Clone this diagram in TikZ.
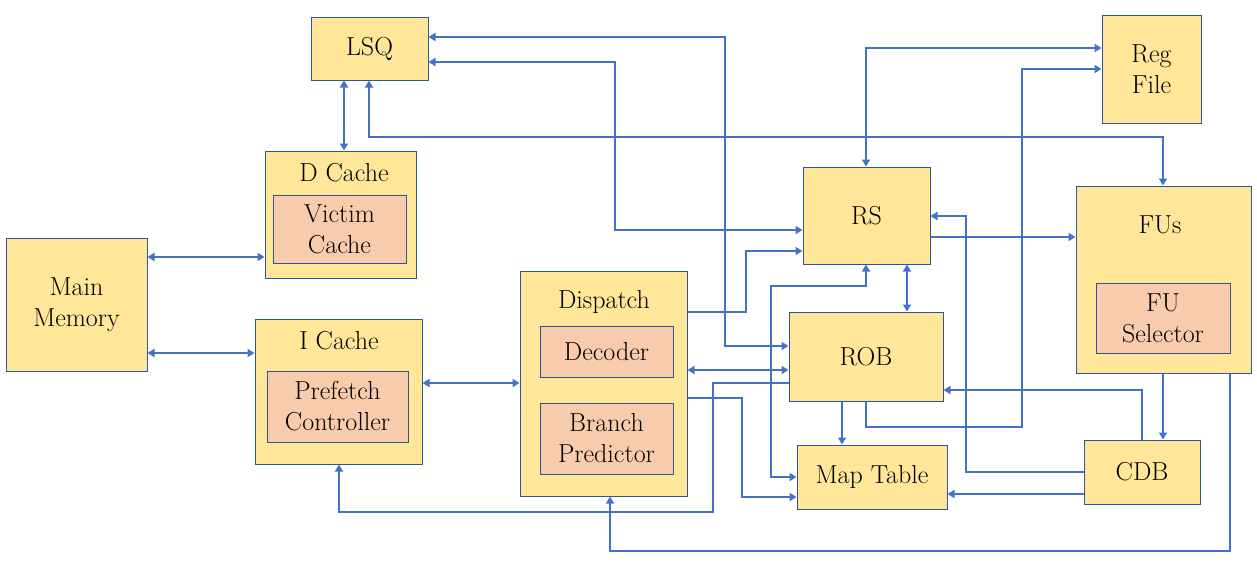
\documentclass[tikz,border=0pt]{standalone}
\usepackage{fontspec}
\usetikzlibrary{arrows.meta}
\definecolor{boxfill}{HTML}{FFE699}
\definecolor{innerfill}{HTML}{F8CBAD}
\definecolor{boxline}{HTML}{2F5597}
\definecolor{wire}{HTML}{4472C4}
\begin{document}
\begin{tikzpicture}[x=1pt,y=-1pt,
  blk/.style={draw=boxline,fill=boxfill,line width=1pt,inner sep=0pt,align=center,font=\fontsize{26}{31}\selectfont},
  inner/.style={draw=boxline,fill=innerfill,line width=1pt,inner sep=0pt,align=center,font=\fontsize{26}{31}\selectfont},
  ttl/.style={inner sep=0pt,font=\fontsize{26}{31}\selectfont},
  wirestyle/.style={draw=wire,line width=2pt,arrows={-Triangle[length=7pt,width=8pt]}},
  both/.style={draw=wire,line width=2pt,arrows={Triangle[length=7pt,width=8pt]-Triangle[length=7pt,width=8pt]}}]
\useasboundingbox (0,0) rectangle (1257,562);
% boxes
\node[blk,minimum width=117pt,minimum height=63pt] (LSQ) at (369.5,48.5) {LSQ};
\node[blk,minimum width=99pt,minimum height=108pt] (RegFile) at (1151.5,69) {Reg\\File};
\node[blk,minimum width=151pt,minimum height=127pt] (DCache) at (340.5,214.5) {};
\node[ttl] (DCacheT) at (344,173) {D Cache};
\node[inner,minimum width=133pt,minimum height=68pt] (Victim) at (339.5,229) {Victim\\Cache};
\node[blk,minimum width=141pt,minimum height=133pt] (MainMem) at (76.5,304.5) {Main\\Memory};
\node[blk,minimum width=167pt,minimum height=145pt] (ICache) at (338.5,391.5) {};
\node[ttl] (ICacheT) at (339,341) {I Cache};
\node[inner,minimum width=141pt,minimum height=71pt] (Prefetch) at (337.5,406.5) {Prefetch\\Controller};
\node[blk,minimum width=167pt,minimum height=225pt] (Dispatch) at (603.5,383.5) {};
\node[ttl] (DispatchT) at (604,302) {Dispatch};
\node[inner,minimum width=133pt,minimum height=51pt] (Decoder) at (606.5,351.5) {Decoder};
\node[inner,minimum width=133pt,minimum height=71pt] (Branch) at (606.5,438.5) {Branch\\Predictor};
\node[blk,minimum width=127pt,minimum height=97pt] (RS) at (866.5,215.5) {RS};
\node[blk,minimum width=154pt,minimum height=89pt] (ROB) at (866,356.5) {ROB};
\node[blk,minimum width=150pt,minimum height=64pt] (MapTable) at (872,477) {Map Table};
\node[blk,minimum width=175pt,minimum height=187pt] (FUs) at (1163.5,279.5) {};
\node[ttl] (FUsT) at (1160,225) {FUs};
\node[inner,minimum width=134pt,minimum height=70pt] (FUSel) at (1163,318) {FU\\Selector};
\node[blk,minimum width=116pt,minimum height=64pt] (CDB) at (1142,472) {CDB};
% connectors
\draw[both] (344,0 |- LSQ.south) -- (344,0 |- DCache.north);
\draw[both] (369,0 |- LSQ.south) -- (369,137) -| (1163,0 |- FUs.north);
\draw[both] (LSQ.east |- 0,37) -| (725,346) -- (ROB.west |- 0,346);
\draw[both] (LSQ.east |- 0,62) -| (615,230) -- (RS.west |- 0,230);
\draw[both] (RegFile.west |- 0,48) -| (866,0 |- RS.north);
\draw[wirestyle] (866,0 |- ROB.south) |- (1022,427) |- (RegFile.west |- 0,69);
\draw[wirestyle] (RS.east |- 0,237) -- (FUs.west |- 0,237);
\draw[wirestyle] (CDB.west |- 0,472) -| (966,216) -- (RS.east |- 0,216);
\draw[both] (907,0 |- RS.south) -- (907,0 |- ROB.north);
\draw[wirestyle] (Dispatch.east |- 0,312) -| (746,251) -- (RS.west |- 0,251);
\draw[both] (866,0 |- RS.south) -- (866,286) -| (771,477) -- (MapTable.west |- 0,477);
\draw[both] (Dispatch.east |- 0,370) -- (ROB.west |- 0,370);
\draw[wirestyle] (ROB.west |- 0,383) -| (713,512) -| (339,0 |- ICache.south);
\draw[wirestyle] (Dispatch.east |- 0,398) -| (742,497) -- (MapTable.west |- 0,497);
\draw[wirestyle] (842,0 |- ROB.south) -- (842,0 |- MapTable.north);
\draw[wirestyle] (1142,0 |- CDB.north) |- (ROB.east |- 0,390);
\draw[wirestyle] (CDB.west |- 0,494) -- (MapTable.east |- 0,494);
\draw[wirestyle] (1163,0 |- FUs.south) -- (1163,0 |- CDB.north);
\draw[wirestyle] (1230,0 |- FUs.south) |- (610,551) -- (610,0 |- Dispatch.south);
\draw[both] (MainMem.east |- 0,257) -- (DCache.west |- 0,257);
\draw[both] (MainMem.east |- 0,353) -- (ICache.west |- 0,353);
\draw[both] (ICache.east |- 0,383) -- (Dispatch.west |- 0,383);
\end{tikzpicture}
\end{document}
